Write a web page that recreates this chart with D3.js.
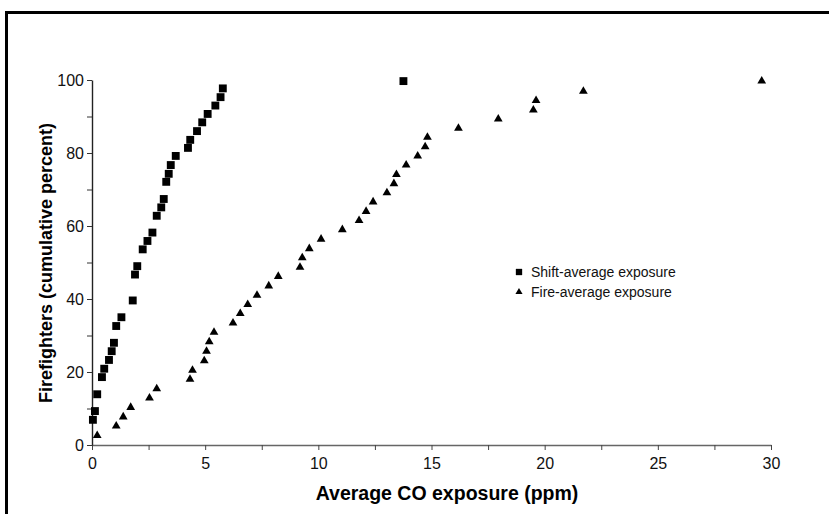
<!DOCTYPE html>
<html>
<head>
<meta charset="utf-8">
<script src="https://cdn.jsdelivr.net/npm/d3@7"></script>
<style>
  html, body { margin: 0; padding: 0; background: #fff; }
  svg { display: block; }
  .tick text { font-family: "Liberation Sans", Arial, sans-serif; font-size: 16px; fill: #111; }
</style>
</head>
<body>
<svg id="chart" width="829" height="514"></svg>
<script>
// Shift-average CO exposure (ppm) and cumulative percent of firefighters
const shiftX = [0.04, 0.13, 0.23, 0.44, 0.54, 0.75, 0.87, 0.97, 1.07, 1.30, 1.80, 1.90, 2.00, 2.24, 2.45, 2.67,
                2.86, 3.06, 3.17, 3.28, 3.39, 3.48, 3.70, 4.24, 4.34, 4.64, 4.87, 5.11, 5.45, 5.68, 5.78, 13.76];
const shiftY = [6.9, 9.3, 13.9, 18.6, 20.9, 23.3, 25.7, 28.0, 32.6, 35.0, 39.6, 46.7, 49.0, 53.6, 55.9, 58.2,
                62.8, 65.1, 67.4, 72.1, 74.3, 76.7, 79.2, 81.4, 83.6, 86.0, 88.4, 90.7, 93.0, 95.3, 97.7, 99.7];

// Fire-average CO exposure (ppm) and cumulative percent of firefighters
const fireX = [0.23, 1.07, 1.38, 1.71, 2.54, 2.86, 4.33, 4.44, 4.96, 5.06, 5.18, 5.39, 6.23, 6.55, 6.88, 7.29,
               7.81, 8.23, 9.19, 9.29, 9.60, 10.12, 11.06, 11.80, 12.11, 12.42, 13.03, 13.34, 13.45, 13.88, 14.39,
               14.72, 14.82, 16.19, 17.95, 19.50, 19.62, 21.71, 29.59];
const fireY = [2.6, 5.2, 7.7, 10.3, 12.9, 15.4, 18.0, 20.5, 23.1, 25.7, 28.3, 30.9, 33.4, 36.0, 38.5, 41.0,
               43.6, 46.2, 48.7, 51.3, 53.8, 56.4, 59.0, 61.5, 64.0, 66.6, 69.1, 71.6, 74.1, 76.7, 79.2,
               81.7, 84.3, 86.8, 89.3, 91.8, 94.4, 96.9, 99.7];

const xTicks = [0, 5, 10, 15, 20, 25, 30];
const xMinorTicks = [0, 2.5, 5, 7.5, 10, 12.5, 15, 17.5, 20, 22.5, 25, 27.5, 30];
const yTicks = [0, 10, 20, 30, 40, 50, 60, 70, 80, 90, 100];
const yLabelTicks = [0, 20, 40, 60, 80, 100];

const seriesNames = ["Shift-average exposure", "Fire-average exposure"];
const xTitle = "Average CO exposure (ppm)";
const yTitle = "Firefighters (cumulative percent)";

const svg = d3.select("#chart");

// outer frame (open at right and bottom)
svg.append("path")
  .attr("d", "M6.5,520 L6.5,12.5 L835,12.5")
  .attr("fill", "none").attr("stroke", "#000").attr("stroke-width", 3);

const x = d3.scaleLinear().domain([0, 30]).range([92, 771]);
const y = d3.scaleLinear().domain([0, 100]).range([445, 80]);

// x axis: ticks every 2.5, labels every 5
const gx = svg.append("g").attr("transform", `translate(0,${y(0)})`)
  .call(d3.axisBottom(x).tickValues(xMinorTicks).tickSize(5).tickSizeOuter(0)
    .tickFormat(d => xTicks.includes(d) ? d : ""));
gx.select(".domain").attr("stroke", "#666").attr("stroke-width", 1.6);
gx.selectAll(".tick line").attr("stroke", "#444");
gx.selectAll(".tick text").attr("dy", "1.0em");

// y axis: ticks every 10, labels every 20
const gy = svg.append("g").attr("transform", `translate(${x(0)},0)`)
  .call(d3.axisLeft(y).tickValues(yTicks).tickSize(5).tickSizeOuter(0)
    .tickFormat(d => yLabelTicks.includes(d) ? d : ""));
gy.select(".domain").attr("stroke", "#222").attr("stroke-width", 1.4);
gy.selectAll(".tick line").attr("stroke", "#333");
gy.selectAll(".tick text").attr("x", -8);

// axis titles
svg.append("text")
  .attr("x", 447).attr("y", 500)
  .attr("text-anchor", "middle")
  .attr("font-family", "'Liberation Sans', Arial, sans-serif")
  .attr("font-weight", "bold").attr("font-size", 19.5)
  .attr("fill", "#000")
  .text(xTitle);

svg.append("text")
  .attr("transform", `translate(52,263) rotate(-90)`)
  .attr("text-anchor", "middle")
  .attr("font-family", "'Liberation Sans', Arial, sans-serif")
  .attr("font-weight", "bold").attr("font-size", 18)
  .attr("fill", "#000")
  .text(yTitle);

// markers
const square = d3.symbol().type(d3.symbolSquare).size(62);
const triangle = d3.symbol().type(d3.symbolTriangle).size(33);

svg.append("g").selectAll("path")
  .data(d3.zip(shiftX, shiftY))
  .join("path")
  .attr("d", square)
  .attr("transform", d => `translate(${x(d[0])},${y(d[1])})`)
  .attr("fill", "#000");

svg.append("g").selectAll("path")
  .data(d3.zip(fireX, fireY))
  .join("path")
  .attr("d", triangle)
  .attr("transform", d => `translate(${x(d[0])},${y(d[1])})`)
  .attr("fill", "#000");

// legend
const legend = svg.append("g").attr("transform", "translate(519,272)");
const shapes = [d3.symbol().type(d3.symbolSquare).size(40), d3.symbol().type(d3.symbolTriangle).size(22)];
seriesNames.forEach((name, i) => {
  const row = legend.append("g").attr("transform", `translate(0,${i * 20})`);
  row.append("path").attr("d", shapes[i]).attr("fill", "#000");
  row.append("text")
    .attr("x", 12).attr("y", 5)
    .attr("font-family", "'Liberation Sans', Arial, sans-serif")
    .attr("font-size", 14)
    .attr("fill", "#111")
    .text(name);
});
</script>
</body>
</html>
